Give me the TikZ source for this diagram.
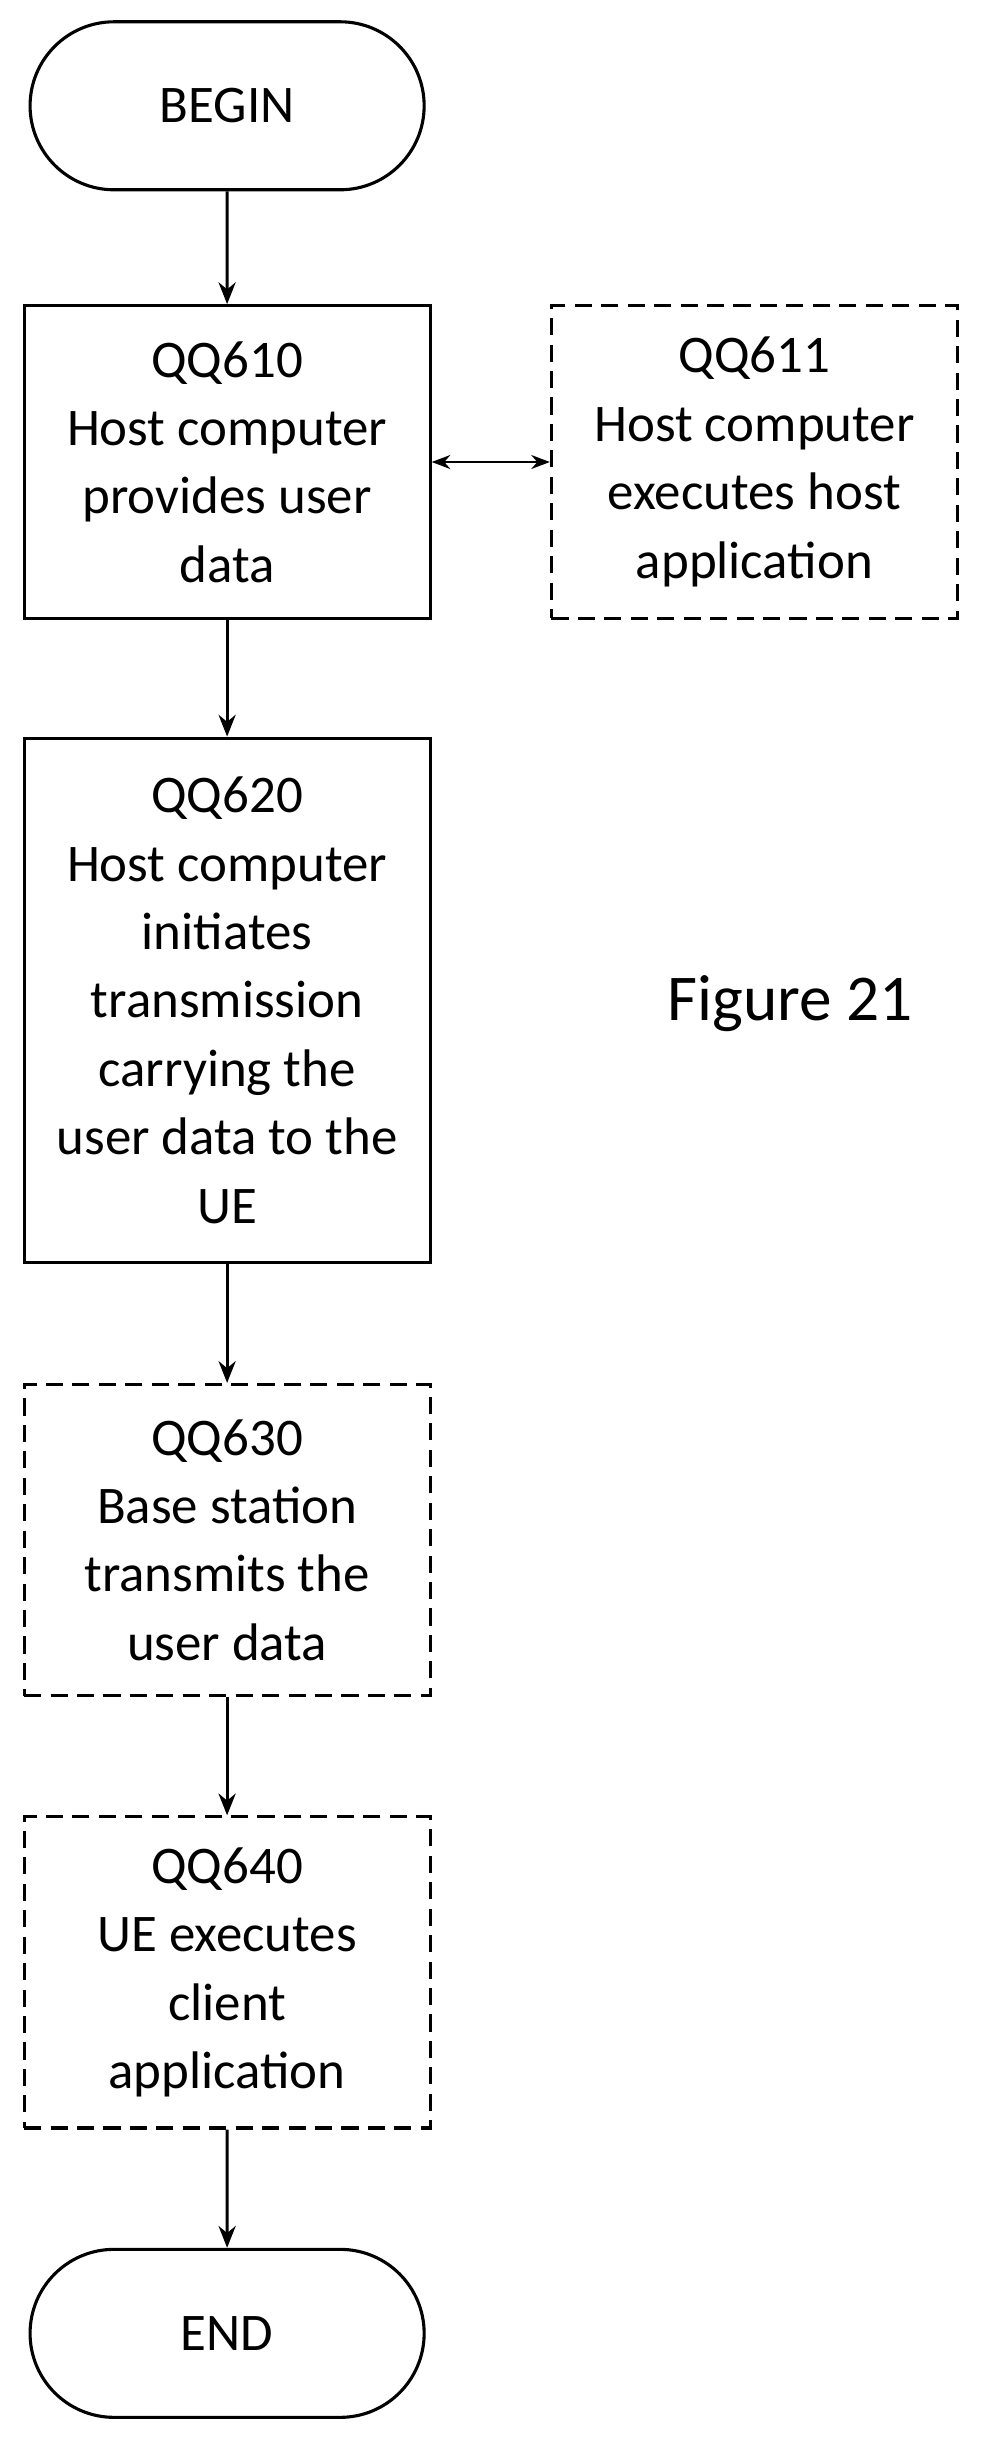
\documentclass[tikz,border=0pt]{standalone}
\usepackage{fontspec}
\setmainfont{Carlito}
\usetikzlibrary{shapes.misc, arrows.meta, positioning}

\begin{document}
\begin{tikzpicture}[x=1pt, y=-1pt,
    every node/.style={font=\fontsize{34}{44}\selectfont, align=center},
    stepbox/.style={draw, line width=2pt, minimum width=261pt},
    optbox/.style={stepbox, dash pattern=on 11pt off 6pt},
    term/.style={draw, line width=2pt, rounded rectangle, minimum width=260pt, minimum height=108pt},
    flow/.style={line width=2pt, -{Stealth[length=14pt, width=11pt]}}]
    \useasboundingbox (0,0) rectangle (636,1575);
    % start and end
    \node[term] (begin) at (146,68) {BEGIN};
    \node[term] (end) at (146,1500) {END};
    % steps
    \node[stepbox, minimum height=201pt] (qq610) at (146,297) {QQ610\\Host computer\\provides user\\data};
    \node[optbox, minimum height=201pt] (qq611) at (485,297) {QQ611\\Host computer\\executes host\\application};
    \node[stepbox, minimum height=337pt] (qq620) at (146,643) {QQ620\\Host computer\\initiates\\transmission\\carrying the\\user data to the\\UE};
    \node[optbox, minimum height=200pt] (qq630) at (146,990) {QQ630\\Base station\\transmits the\\user data};
    \node[optbox, minimum height=200pt] (qq640) at (146,1268) {QQ640\\UE executes\\client\\application};
    \node (fig) at (508,645) {\fontsize{42}{48}\selectfont Figure 21};
    % connectors
    \draw[flow] (begin) -- (qq610);
    \draw[line width=1.5pt, {Stealth[length=12pt, width=9pt]}-{Stealth[length=12pt, width=9pt]}] (qq610) -- (qq611);
    \draw[flow] (qq610) -- (qq620);
    \draw[flow] (qq620) -- (qq630);
    \draw[flow] (qq630) -- (qq640);
    \draw[flow] (qq640) -- (end);
\end{tikzpicture}
\end{document}
